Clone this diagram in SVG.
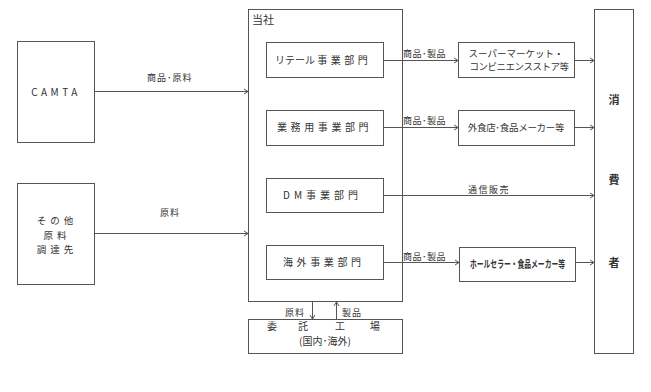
<svg xmlns="http://www.w3.org/2000/svg" width="651" height="392" viewBox="0 0 651 392">
<defs>
<style>
.b{fill:#fff;stroke:#555;stroke-width:1}
.c{fill:none;stroke:#555;stroke-width:1}
text{font-family:"Noto Sans CJK JP","Liberation Sans",sans-serif;fill:#333}
.t{font-size:10px}
.l{font-size:9px}
.s{font-size:11px;font-weight:bold}
.m{text-anchor:middle}
</style>
<marker id="a" markerWidth="6" markerHeight="8" refX="5" refY="4" orient="auto" markerUnits="userSpaceOnUse">
<path d="M1,1.5 L5,4 L1,6.5" fill="none" stroke="#555" stroke-width="1"/>
</marker>
</defs>
<rect width="651" height="392" fill="#fff"/>
<g id="camta"><rect class="b" x="17.5" y="41.5" width="77" height="101"/><text class="t m" x="56" y="96" font-family="Liberation Sans" letter-spacing="3.5">CAMTA</text></g>
<g id="other"><rect class="b" x="17.5" y="183.5" width="77" height="101"/>
<text class="m" x="57" y="224" font-size="9.5" letter-spacing="4">その他</text>
<text class="m" x="57" y="238.5" font-size="9.5" letter-spacing="4">原料</text>
<text class="m" x="57" y="253" font-size="9.5" letter-spacing="4">調達先</text></g>
<g id="company"><rect class="b" x="248.5" y="9.5" width="154" height="292"/><text x="252" y="24" font-size="11">当社</text></g>
<g id="retail"><rect class="b" x="266.5" y="42.5" width="117" height="35"/><text class="t" x="275" y="64">リテール <tspan letter-spacing="3.5">事業部門</tspan></text></g>
<g id="business"><rect class="b" x="266.5" y="110.5" width="117" height="35"/><text class="t" x="277" y="131" letter-spacing="3.6">業務用事業部門</text></g>
<g id="dm"><rect class="b" x="266.5" y="178.5" width="117" height="34"/><text class="t" x="283" y="199" letter-spacing="4">DM事業部門</text></g>
<g id="overseas"><rect class="b" x="266.5" y="245.5" width="117" height="34"/><text class="t" x="283" y="266" letter-spacing="3.6">海外事業部門</text></g>
<g id="factory"><rect class="b" x="248.5" y="319.5" width="154" height="34"/>
<text class="t" x="267" y="330">委</text><text class="t" x="298" y="330">託</text><text class="t" x="335" y="330">工</text><text class="t" x="370" y="330">場</text>
<text class="t m" x="325" y="345">(国内･海外)</text></g>
<g id="super"><rect class="b" x="458.5" y="42.5" width="116" height="35"/>
<text class="m" x="516" y="57" font-size="9.5">スーパーマーケット・</text>
<text class="m" x="519" y="70" font-size="9.5" letter-spacing="-0.5">コンビニエンスストア等</text></g>
<g id="food"><rect class="b" x="458.5" y="110.5" width="116" height="35"/><text class="m" x="516" y="131" font-size="9.5" letter-spacing="-0.3">外食店･食品メーカー等</text></g>
<g id="wholesale"><rect class="b" x="459.5" y="247.5" width="116" height="34"/><text x="470" y="268" font-size="10" font-weight="bold" textLength="95" lengthAdjust="spacingAndGlyphs">ホールセラー・食品メーカー等</text></g>
<g id="consumer"><rect class="b" x="594.5" y="9.5" width="39" height="344"/>
<text class="s m" x="614" y="104">消</text><text class="s m" x="614" y="184">費</text><text class="s m" x="614" y="267">者</text></g>
<g id="connectors">
<line class="c" x1="95" y1="91.5" x2="248" y2="91.5" marker-end="url(#a)"/>
<line class="c" x1="95" y1="233.5" x2="248" y2="233.5" marker-end="url(#a)"/>
<line class="c" x1="384" y1="60.5" x2="458" y2="60.5" marker-end="url(#a)"/>
<line class="c" x1="384" y1="127.5" x2="458" y2="127.5" marker-end="url(#a)"/>
<line class="c" x1="384" y1="195.5" x2="594" y2="195.5" marker-end="url(#a)"/>
<line class="c" x1="384" y1="262.5" x2="459" y2="262.5" marker-end="url(#a)"/>
<line class="c" x1="575" y1="60.5" x2="594" y2="60.5" marker-end="url(#a)"/>
<line class="c" x1="575" y1="127.5" x2="594" y2="127.5" marker-end="url(#a)"/>
<line class="c" x1="576" y1="262.5" x2="594" y2="262.5" marker-end="url(#a)"/>
<line class="c" x1="312.5" y1="302" x2="312.5" y2="319" marker-end="url(#a)"/>
<line class="c" x1="336.5" y1="319" x2="336.5" y2="302" marker-end="url(#a)"/>
<text class="l" x="147" y="81" letter-spacing="1">商品･原料</text>
<text class="l" x="160" y="216" letter-spacing="1">原料</text>
<text class="l" x="403" y="57" letter-spacing="0.5">商品･製品</text>
<text class="l" x="403" y="124" letter-spacing="0.5">商品･製品</text>
<text class="l" x="403" y="260" letter-spacing="0.5">商品･製品</text>
<text class="l" x="468" y="193" letter-spacing="1.5">通信販売</text>
<text class="l" x="285" y="316" letter-spacing="1">原料</text>
<text class="l" x="342" y="316" letter-spacing="1">製品</text>
</g>
</svg>
